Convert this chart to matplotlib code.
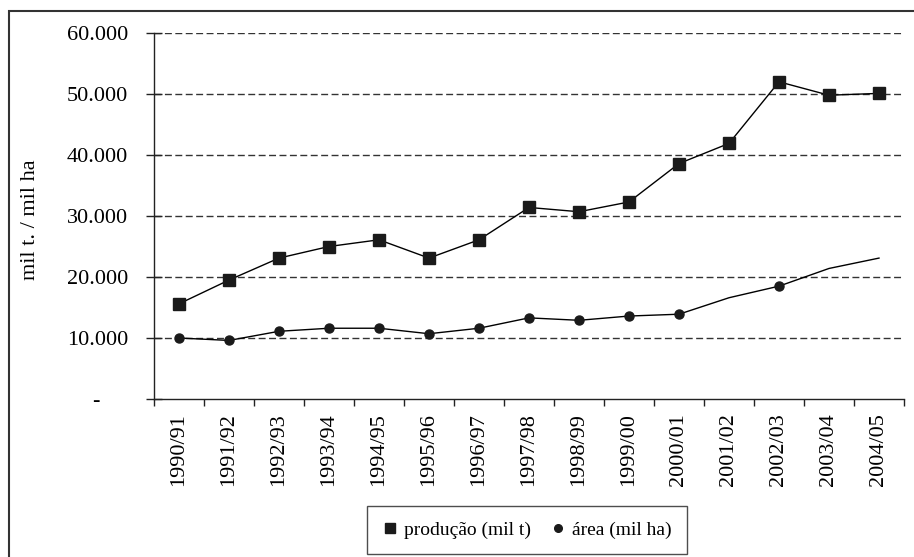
import matplotlib
matplotlib.use("Agg")
import matplotlib.pyplot as plt
from matplotlib.lines import Line2D
from matplotlib.patches import Rectangle
from matplotlib.ticker import FixedLocator, FuncFormatter

plt.rcParams['font.family'] = ['Liberation Serif', 'DejaVu Serif']

safras = ["1990/91", "1991/92", "1992/93", "1993/94", "1994/95", "1995/96",
          "1996/97", "1997/98", "1998/99", "1999/00", "2000/01", "2001/02",
          "2002/03", "2003/04", "2004/05"]
producao = [15600, 19500, 23100, 25000, 26100, 23100, 26100, 31400, 30700,
            32300, 38600, 41900, 52000, 49800, 50100]
area = [10000, 9600, 11100, 11600, 11600, 10700, 11600, 13300, 12900,
        13600, 13900, 16600, 18500, 21400, 23100]
# seasons whose area point carries a marker
area_marcadas = [0, 1, 2, 3, 4, 5, 6, 7, 8, 9, 10, 12]
y_ticks = [0, 10000, 20000, 30000, 40000, 50000, 60000]

W, H = 914, 557
fig = plt.figure(figsize=(W / 100, H / 100), dpi=100)
ax = fig.add_axes([154 / W, (H - 399) / H, 750 / W, 366 / H])

x = list(range(len(safras)))
ax.plot(x, producao, color='black', lw=1.0, marker='s', markersize=8,
        markerfacecolor='#1a1a1a', markeredgecolor='#1a1a1a', zorder=3)
ax.plot(x, area, color='black', lw=1.0, marker='o', markersize=6.5,
        markevery=area_marcadas, markerfacecolor='#1a1a1a',
        markeredgecolor='#1a1a1a', zorder=3)

ax.set_xlim(-0.5, len(safras) - 0.5)
ax.set_ylim(0, 60000)

ax.xaxis.set_major_locator(FixedLocator(x))
ax.set_xticklabels(safras, rotation=90, fontsize=16)
ax.xaxis.set_minor_locator(FixedLocator([i - 0.5 for i in range(len(safras) + 1)]))
ax.tick_params(axis='x', which='major', length=0, pad=10)
ax.tick_params(axis='x', which='minor', length=5, width=1.0, direction='out',
               color='#222222')

ax.yaxis.set_major_locator(FixedLocator(y_ticks))


def fmt(v, pos):
    if v == 0:
        return "-     "
    return f"{int(v):,}".replace(",", ".")


ax.yaxis.set_major_formatter(FuncFormatter(fmt))
ax.tick_params(axis='y', labelsize=16, length=11, width=1.0, direction='inout',
               color='#222222', pad=13)

for v in y_ticks[1:]:
    ax.axhline(v, color='#333333', lw=1.0, ls=(0, (5, 2.5)), zorder=1)

for s in ['top', 'right']:
    ax.spines[s].set_visible(False)
for s in ['left', 'bottom']:
    ax.spines[s].set_color('#222222')
    ax.spines[s].set_linewidth(1.0)

ax.set_ylabel("mil t. / mil ha", fontsize=16)
ax.yaxis.set_label_coords((40 - 154) / 750, (399 - 220) / 366)

handles = [
    Line2D([], [], ls='none', marker='s', markersize=7, color='#1a1a1a'),
    Line2D([], [], ls='none', marker='o', markersize=5.5, color='#1a1a1a'),
]
leg = fig.legend(handles, ["produção (mil t)", "área (mil ha)"], ncol=2,
                 loc='center', bbox_to_anchor=(527 / W, (H - 530) / H),
                 fontsize=14, frameon=True, fancybox=False, handletextpad=0.3,
                 columnspacing=1.0, handlelength=0.8, borderpad=0.8,
                 borderaxespad=0)
leg.get_frame().set_edgecolor('#222222')
leg.get_frame().set_linewidth(1.0)

# outer frame around the chart area
fig.patches.append(Rectangle((8.5 / W, -0.2), 1.2, (H - 11) / H + 0.2,
                             transform=fig.transFigure, fill=False,
                             edgecolor='#333333', lw=1.5))

fig.savefig("out.png", dpi=100)
